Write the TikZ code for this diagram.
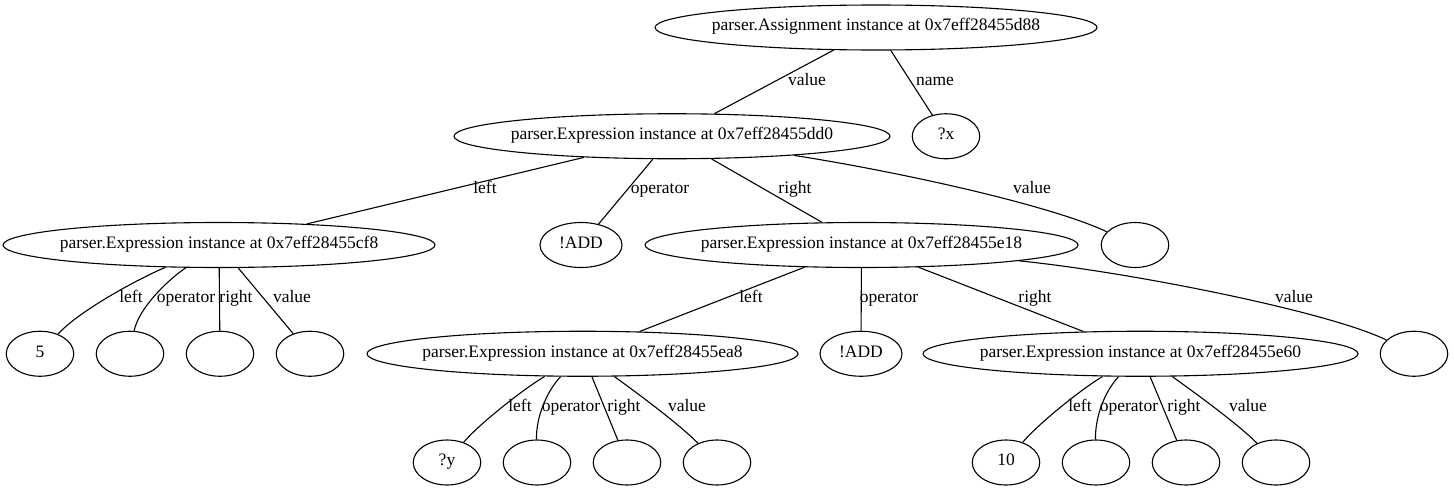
\documentclass[tikz,border=0pt]{standalone}
\usepackage{fontspec}
\setmainfont{Liberation Serif}
\usetikzlibrary{shapes.geometric}
\newcommand{\zerowd}[1]{\makebox[0pt][c]{#1}}
\begin{document}
\begin{tikzpicture}[x=1pt,y=-1pt,
  txt/.style={font=\fontsize{17.5}{21}\selectfont, text height=0.75em, text depth=0.1em, inner sep=0pt},
  obj/.style={txt, ellipse, draw, line width=1.1pt, minimum height=45pt},
  leaf/.style={obj, minimum width=67.5pt},
  lbl/.style={txt},
  edge/.style={line width=1.1pt}]
\useasboundingbox (0,0) rectangle (1454,490);
% row 1
\node[obj, minimum width=442pt] (root) at (876,27.5) {\zerowd{parser.Assignment instance at 0x7eff28455d88}};
% row 2
\node[obj, minimum width=436pt] (dd0) at (672,136.25) {\zerowd{parser.Expression instance at 0x7eff28455dd0}};
\node[leaf] (x) at (946,136.25) {?x};
% row 3
\node[obj, minimum width=432pt] (cf8) at (219,245) {\zerowd{parser.Expression instance at 0x7eff28455cf8}};
\node[obj, minimum width=82pt] (add1) at (581,245) {\zerowd{!ADD}};
\node[obj, minimum width=433pt] (e18) at (861.5,245) {\zerowd{parser.Expression instance at 0x7eff28455e18}};
\node[leaf] (v1) at (1135,245) {};
% row 4
\node[leaf] (five) at (40,353.75) {5};
\node[leaf] (c2) at (130,353.75) {};
\node[leaf] (c3) at (220,353.75) {};
\node[leaf] (c4) at (310,353.75) {};
\node[obj, minimum width=431pt] (ea8) at (582.5,353.75) {\zerowd{parser.Expression instance at 0x7eff28455ea8}};
\node[obj, minimum width=82pt] (add2) at (861,353.75) {\zerowd{!ADD}};
\node[obj, minimum width=435pt] (e60) at (1140.5,353.75) {\zerowd{parser.Expression instance at 0x7eff28455e60}};
\node[leaf] (v2) at (1414,353.75) {};
% row 5
\node[leaf] (y) at (447,462.5) {?y};
\node[leaf] (d2) at (537,462.5) {};
\node[leaf] (d3) at (627,462.5) {};
\node[leaf] (d4) at (717,462.5) {};
\node[leaf] (ten) at (1006,462.5) {10};
\node[leaf] (f2) at (1096,462.5) {};
\node[leaf] (f3) at (1186,462.5) {};
\node[leaf] (f4) at (1276,462.5) {};
% edges
\draw[edge] (root) -- (dd0);
\draw[edge] (root) -- (x);
\draw[edge] (dd0) -- (cf8);
\draw[edge] (dd0) -- (add1);
\draw[edge] (dd0) -- (e18);
\draw[edge] (dd0) .. controls (900,172) and (1050,205) .. (v1);
\draw[edge] (cf8) .. controls (140,278) and (80,310) .. (five);
\draw[edge] (cf8) .. controls (165,282) and (138,310) .. (c2);
\draw[edge] (cf8) -- (c3);
\draw[edge] (cf8) -- (c4);
\draw[edge] (e18) -- (ea8);
\draw[edge] (e18) -- (add2);
\draw[edge] (e18) -- (e60);
\draw[edge] (e18) .. controls (1130,272) and (1330,312) .. (v2);
\draw[edge] (ea8) .. controls (522,390) and (478,425) .. (y);
\draw[edge] (ea8) .. controls (546,392) and (536,418) .. (d2);
\draw[edge] (ea8) -- (d3);
\draw[edge] (ea8) .. controls (640,395) and (680,425) .. (d4);
\draw[edge] (e60) .. controls (1080,390) and (1037,425) .. (ten);
\draw[edge] (e60) .. controls (1104,392) and (1095,418) .. (f2);
\draw[edge] (e60) -- (f3);
\draw[edge] (e60) .. controls (1198,395) and (1239,425) .. (f4);
% labels
\node[lbl] (l1) at (807,82) {value};
\node[lbl] (l2) at (935,82) {name};
\node[lbl] (l3) at (485,190.6) {left};
\node[lbl] (l4) at (660,190.6) {operator};
\node[lbl] (l5) at (795,190.6) {right};
\node[lbl] (l6) at (1032,190.6) {value};
\node[lbl] (l7) at (131,299.4) {left};
\node[lbl] (l8) at (186,299.4) {operator};
\node[lbl] (l9) at (236,299.4) {right};
\node[lbl] (l10) at (292,299.4) {value};
\node[lbl] (l11) at (751,299.4) {left};
\node[lbl] (l12) at (889,299.4) {operator};
\node[lbl] (l13) at (1035,299.4) {right};
\node[lbl] (l14) at (1294,299.4) {value};
\node[lbl] (l15) at (520,408) {left};
\node[lbl] (l16) at (571,408) {operator};
\node[lbl] (l17) at (624,408) {right};
\node[lbl] (l18) at (687,408) {value};
\node[lbl] (l19) at (1080,408) {left};
\node[lbl] (l20) at (1129,408) {operator};
\node[lbl] (l21) at (1184,408) {right};
\node[lbl] (l22) at (1248,408) {value};
\end{tikzpicture}
\end{document}
